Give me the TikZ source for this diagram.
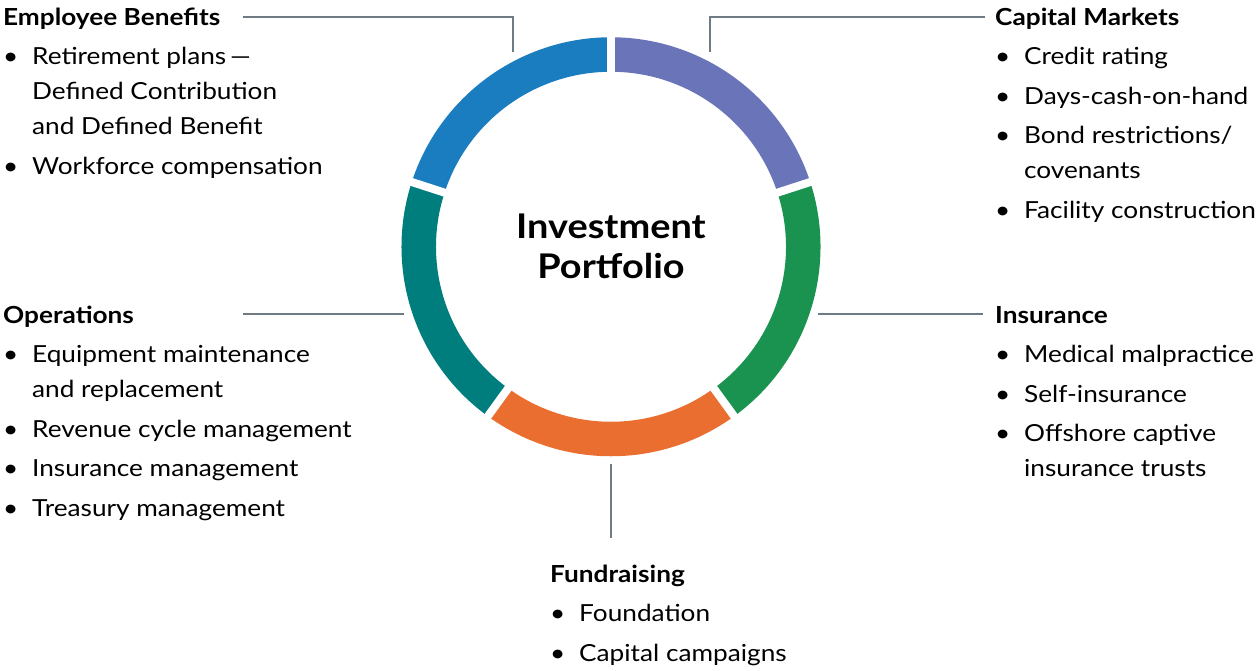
\documentclass[tikz,border=0pt]{standalone}
\usepackage{fontspec}
\setmainfont{Lato}[FakeStretch=1.115]
\definecolor{benefitblue}{HTML}{1A7DC0}
\definecolor{capitalpurple}{HTML}{6A74B8}
\definecolor{insuregreen}{HTML}{1B9350}
\definecolor{fundorange}{HTML}{E96E30}
\definecolor{operteal}{HTML}{007E7D}
\definecolor{leadgray}{HTML}{6E7B85}
\newcommand{\bul}{\makebox[29pt][l]{\textbullet}}
\newcommand{\skipbul}{\hspace*{29pt}}
\tikzset{
  seg/.style={line width=34.5pt},
  lead/.style={draw=leadgray, line width=2pt},
  group/.style={anchor=base west, inner sep=0pt, font=\fontsize{23.5}{35}\selectfont},
}
\begin{document}
\begin{tikzpicture}[x=1pt,y=1pt]
\useasboundingbox (0,0) rectangle (1259,-670);
\coordinate (c) at (611,-246.75);
% ring segments
\foreach \a/\col in {90/benefitblue, 18/capitalpurple, -54/insuregreen, -126/fundorange, 162/operteal}
  \draw[seg, \col] ([shift={(\a:192.25)}]c) arc[start angle=\a, end angle=\a+72, radius=192.25];
% white gaps
\foreach \a in {90,18,-54,-126,162}
  \draw[white, line width=8pt] ([shift={(\a:170)}]c) -- ([shift={(\a:215)}]c);

\node[anchor=base, inner sep=0pt, font=\fontsize{34}{40}\selectfont\bfseries] (core) at (611,-238)
  {\begin{tabular}[t]{@{}c@{}}Investment\\Portfolio\end{tabular}};

\node[group] (benefits) at (3,-25) {\begin{tabular}[t]{@{}l@{}}
  \textbf{Employee Benefits}\\[4.5pt]
  \bul Retirement plans\,—\\
  \skipbul Defined Contribution\\
  \skipbul and Defined Benefit\\[4.5pt]
  \bul Workforce compensation
\end{tabular}};
\node[group] (capital) at (995,-25) {\begin{tabular}[t]{@{}l@{}}
  \textbf{Capital Markets}\\[4.5pt]
  \bul Credit rating\\[4.5pt]
  \bul Days-cash-on-hand\\[4.5pt]
  \bul Bond restrictions/\\
  \skipbul covenants\\[4.5pt]
  \bul Facility construction
\end{tabular}};
\node[group] (operations) at (3,-323) {\begin{tabular}[t]{@{}l@{}}
  \textbf{Operations}\\[4.5pt]
  \bul Equipment maintenance\\
  \skipbul and replacement\\[4.5pt]
  \bul Revenue cycle management\\[4.5pt]
  \bul Insurance management\\[4.5pt]
  \bul Treasury management
\end{tabular}};
\node[group] (insurance) at (995,-323) {\begin{tabular}[t]{@{}l@{}}
  \textbf{Insurance}\\[4.5pt]
  \bul Medical malpractice\\[4.5pt]
  \bul Self-insurance\\[4.5pt]
  \bul Offshore captive\\
  \skipbul insurance trusts
\end{tabular}};
\node[group] (fundraising) at (550,-582) {\begin{tabular}[t]{@{}l@{}}
  \textbf{Fundraising}\\[4.5pt]
  \bul Foundation\\[4.5pt]
  \bul Capital campaigns
\end{tabular}};

% leads
\coordinate (benefits-lead) at (243,-17);
\coordinate (benefits-ring) at (513.3,-52);
\coordinate (capital-lead) at (985,-17);
\coordinate (capital-ring) at (710,-52);
\coordinate (operations-lead) at (243,-314);
\coordinate (operations-ring) at (404,-314);
\coordinate (insurance-lead) at (983,-314);
\coordinate (insurance-ring) at (818,-314);
\coordinate (fundraising-ring) at (610.7,-464);
\coordinate (fundraising-lead) at (610.7,-538);
\draw[lead] (benefits-lead) -| (benefits-ring);
\draw[lead] (capital-lead) -| (capital-ring);
\draw[lead] (operations-lead) -- (operations-ring);
\draw[lead] (insurance-lead) -- (insurance-ring);
\draw[lead] (fundraising-ring) -- (fundraising-lead);
\end{tikzpicture}
\end{document}
